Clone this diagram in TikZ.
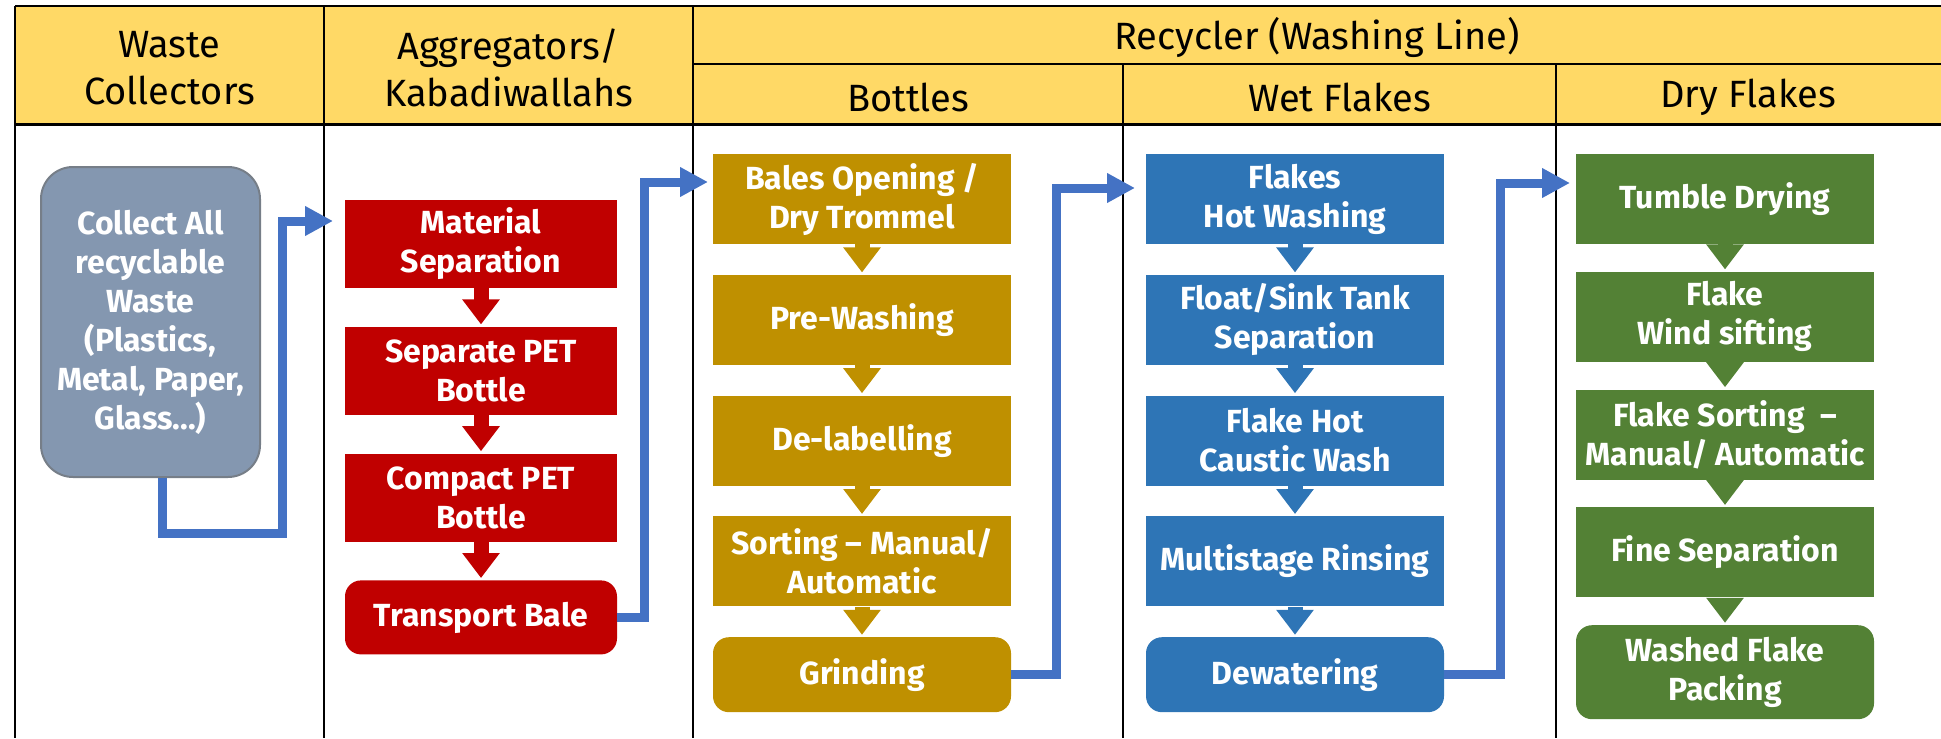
\documentclass[tikz,border=0pt]{standalone}
\usepackage{fontspec}
\setmainfont{Fira Sans}
\usetikzlibrary{positioning, arrows.meta}

\definecolor{headyellow}{HTML}{FFD966}
\definecolor{slatefill}{HTML}{8497B0}
\definecolor{slateedge}{HTML}{767E88}
\definecolor{aggred}{HTML}{C00000}
\definecolor{bottlegold}{HTML}{BF9000}
\definecolor{wetblue}{HTML}{2E75B6}
\definecolor{drygreen}{HTML}{538135}
\definecolor{flowblue}{HTML}{4472C4}

\begin{document}
\begin{tikzpicture}[
        x=0.5pt, y=-0.5pt, % 1 единица = 1 пиксель
        grid/.style = {draw=black, line width=1pt}, % линии таблицы
        head/.style = {align=center, inner sep=0pt, font=\fontsize{19}{23.5}\selectfont},
        proc/.style = {align=center, text=white, inner sep=2pt, font=\bfseries\fontsize{16}{19.5}\selectfont}, % стиль блоков
        redbox/.style = {proc, fill=aggred, minimum width=136pt, minimum height=44pt},
        goldbox/.style = {proc, fill=bottlegold, minimum width=149pt, minimum height=45pt},
        bluebox/.style = {proc, fill=wetblue, minimum width=149pt, minimum height=45pt},
        greenbox/.style = {proc, fill=drygreen, minimum width=149pt, minimum height=45pt},
        darr/.style = {draw=#1, line width=7.5pt, -{Triangle[length=12.5pt, width=18pt]}, shorten >=1pt},
        flow/.style = {draw=flowblue, line width=4.5pt, line join=miter, -{Triangle[length=14pt, width=14pt]}},
    ]

    \useasboundingbox (0,0) rectangle (1941,738);

    % шапка таблицы
    \fill[headyellow] (15,6) rectangle (1941,124);
    \draw[grid] (15,6) -- (1941,6);
    \draw[grid] (693,64) -- (1941,64);
    \draw[grid, line width=1.5pt] (15,124) -- (1941,124);
    \draw[grid] (15,6) -- (15,738);
    \draw[grid] (324,6) -- (324,738);
    \draw[grid] (693,6) -- (693,738);
    \draw[grid] (1123,64) -- (1123,738);
    \draw[grid] (1556,64) -- (1556,738);

    \node[head] (hwaste) at (169.5,68) {Waste\\Collectors};
    \node[head] (hagg) at (508.5,68) {Aggregators/\\Kabadiwallahs};
    \node[head] (hrec) at (1317,37) {Recycler (Washing Line)};
    \node[head] (hbot) at (908,97) {Bottles};
    \node[head] (hwet) at (1339.5,97) {Wet Flakes};
    \node[head] (hdry) at (1748,97) {Dry Flakes};

    % сборщики
    \node[proc, fill=slatefill, draw=slateedge, line width=1pt, rounded corners=16pt,
        minimum width=109.5pt, minimum height=155pt] (col) at (150.5,322)
        {Collect All\\recyclable\\Waste\\(Plastics,\\Metal, Paper,\\Glass...)};

    % агрегаторы
    \node[redbox] (ms) at (481,244) {Material\\Separation};
    \node[redbox, below=19pt of ms] (sp) {Separate PET\\Bottle};
    \node[redbox, below=19pt of sp] (cp) {Compact PET\\Bottle};
    \node[redbox, below=19pt of cp, minimum height=37pt, rounded corners=8pt] (tb) {Transport Bale};

    % бутылки
    \node[goldbox] (bo) at (862,199) {Bales Opening /\\Dry Trommel};
    \node[goldbox, below=15pt of bo] (pw) {Pre-Washing};
    \node[goldbox, below=15pt of pw] (dl) {De-labelling};
    \node[goldbox, below=15pt of dl] (so) {Sorting -- Manual/\\Automatic};
    \node[goldbox, below=15pt of so, minimum height=37.5pt, rounded corners=8pt] (gr) {Grinding};

    % мокрые хлопья
    \node[bluebox] (bh) at (1295,199) {Flakes\\Hot Washing};
    \node[bluebox, below=15pt of bh] (fs) {Float/Sink Tank\\Separation};
    \node[bluebox, below=15pt of fs] (fh) {Flake Hot\\Caustic Wash};
    \node[bluebox, below=15pt of fh] (mr) {Multistage Rinsing};
    \node[bluebox, below=15pt of mr, minimum height=37.5pt, rounded corners=8pt] (dw) {Dewatering};

    % сухие хлопья
    \node[greenbox] (td) at (1725,199) {Tumble Drying};
    \node[greenbox, below=13.5pt of td] (wsf) {Flake\\Wind sifting};
    \node[greenbox, below=13.5pt of wsf] (fso) {Flake Sorting~ --\\Manual/ Automatic};
    \node[greenbox, below=13.5pt of fso] (fse) {Fine Separation};
    \node[greenbox, below=13.5pt of fse, minimum height=47pt, rounded corners=8pt] (wfp) {Washed Flake\\Packing};

    % стрелки внутри колонок
    \draw[darr=aggred] (ms) -- (sp);
    \draw[darr=aggred] (sp) -- (cp);
    \draw[darr=aggred] (cp) -- (tb);
    \draw[darr=bottlegold] (bo) -- (pw);
    \draw[darr=bottlegold] (pw) -- (dl);
    \draw[darr=bottlegold] (dl) -- (so);
    \draw[darr=bottlegold] (so) -- (gr);
    \draw[darr=wetblue] (bh) -- (fs);
    \draw[darr=wetblue] (fs) -- (fh);
    \draw[darr=wetblue] (fh) -- (mr);
    \draw[darr=wetblue] (mr) -- (dw);
    \draw[darr=drygreen] (td) -- (wsf);
    \draw[darr=drygreen] (wsf) -- (fso);
    \draw[darr=drygreen] (fso) -- (fse);
    \draw[darr=drygreen] (fse) -- (wfp);

    % переходы между колонками
    \coordinate (in1) at (333,221);
    \coordinate (in2) at (708,182);
    \coordinate (in3) at (1135,188);
    \coordinate (in4) at (1570,183);
    \draw[flow] ([xshift=6pt]col.south) -- ++(0,55) -| ([xshift=-25.5pt]in1) -- (in1);
    \draw[flow] (tb.east) -- ++(27,0) |- (in2);
    \draw[flow] (gr.east) -- ++(45,0) |- (in3);
    \draw[flow] (dw.east) -- ++(56,0) |- (in4);
\end{tikzpicture}
\end{document}
